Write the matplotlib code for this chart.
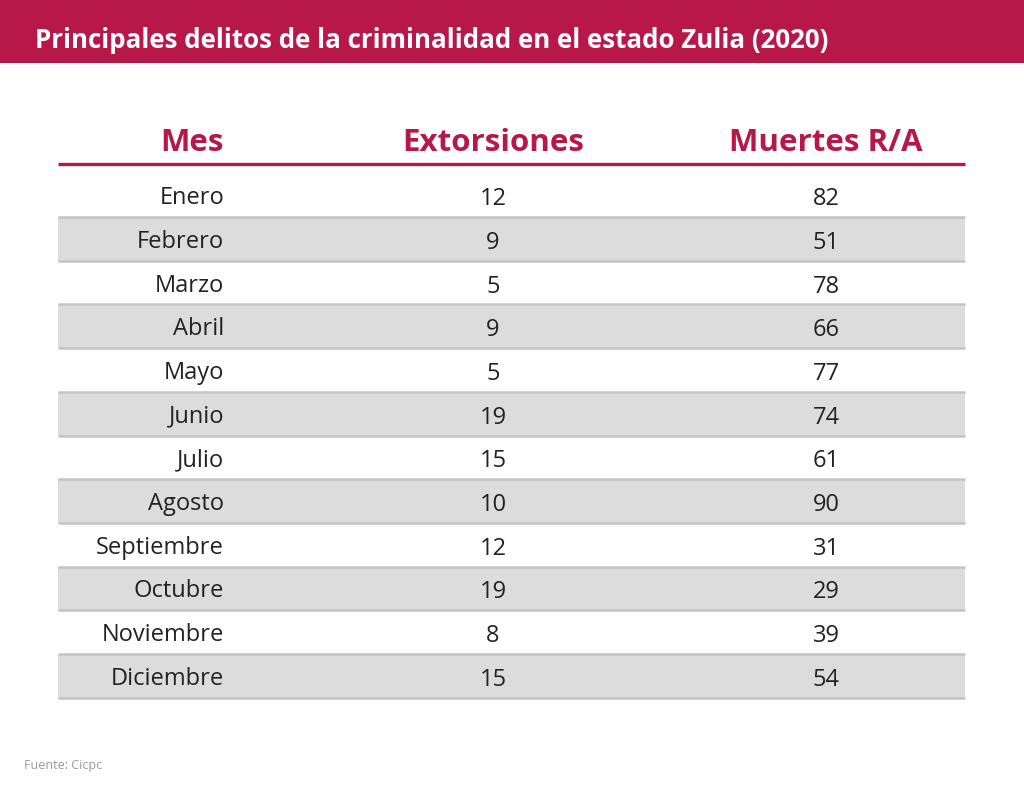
import matplotlib
matplotlib.use("Agg")
import matplotlib.pyplot as plt
from matplotlib.patches import Rectangle

plt.rcParams['font.family'] = ['Open Sans', 'DejaVu Sans']

TITLE = "Principales delitos de la criminalidad en el estado Zulia (2020)"
SOURCE = "Fuente: Cicpc"
columns = ["Mes", "Extorsiones", "Muertes R/A"]
meses = ["Enero", "Febrero", "Marzo", "Abril", "Mayo", "Junio", "Julio",
         "Agosto", "Septiembre", "Octubre", "Noviembre", "Diciembre"]
extorsiones = [12, 9, 5, 9, 5, 19, 15, 10, 12, 19, 8, 15]
muertes = [82, 51, 78, 66, 77, 74, 61, 90, 31, 29, 39, 54]

RED = "#B8174A"
GREY = "#DCDCDC"
LINE = "#C4C4C4"

W, H = 1024, 791
fig = plt.figure(figsize=(W / 100, H / 100), dpi=100)
ax = fig.add_axes([0, 0, 1, 1])
ax.set_xlim(0, W)
ax.set_ylim(H, 0)
ax.axis('off')

# title bar
ax.add_patch(Rectangle((0, 0), W, 63, color=RED, lw=0))
ax.text(35, 40, TITLE, color="white", fontsize=18.6, fontweight="bold", va="center")

# table geometry
left, right = 58, 965
x_mes, x_ext, x_mue = 224, 493, 826
top = 173.3        # top of first row
row_h = 43.7

for label, x, ha in zip(columns, [x_mes, x_ext, x_mue], ["right", "center", "center"]):
    ax.text(x, 143, label, color=RED, fontsize=22.5, fontweight="bold", ha=ha, va="center")
ax.plot([left, right], [164, 164], color=RED, lw=2.4, solid_capstyle="butt")

for i, (m, e, d) in enumerate(zip(meses, extorsiones, muertes)):
    y0 = top + i * row_h
    if i % 2 == 1:
        ax.add_patch(Rectangle((left, y0), right - left, row_h, color=GREY, lw=0))
    if i > 0:
        ax.plot([left, right], [y0, y0], color=LINE, lw=1.8, solid_capstyle="butt")
    yc = y0 + row_h / 2
    ax.text(x_mes, yc + 3, m, fontsize=17, color="#222222", ha="right", va="center")
    ax.text(x_ext, yc + 4, str(e), fontsize=17, color="#222222", ha="center", va="center")
    ax.text(x_mue, yc + 4, str(d), fontsize=17, color="#222222", ha="center", va="center")
ax.plot([left, right], [top + 12 * row_h] * 2, color=LINE, lw=1.8, solid_capstyle="butt")

ax.text(24, 766, SOURCE, fontsize=9, color="#999999", va="center")

fig.savefig("out.png", dpi=100)
